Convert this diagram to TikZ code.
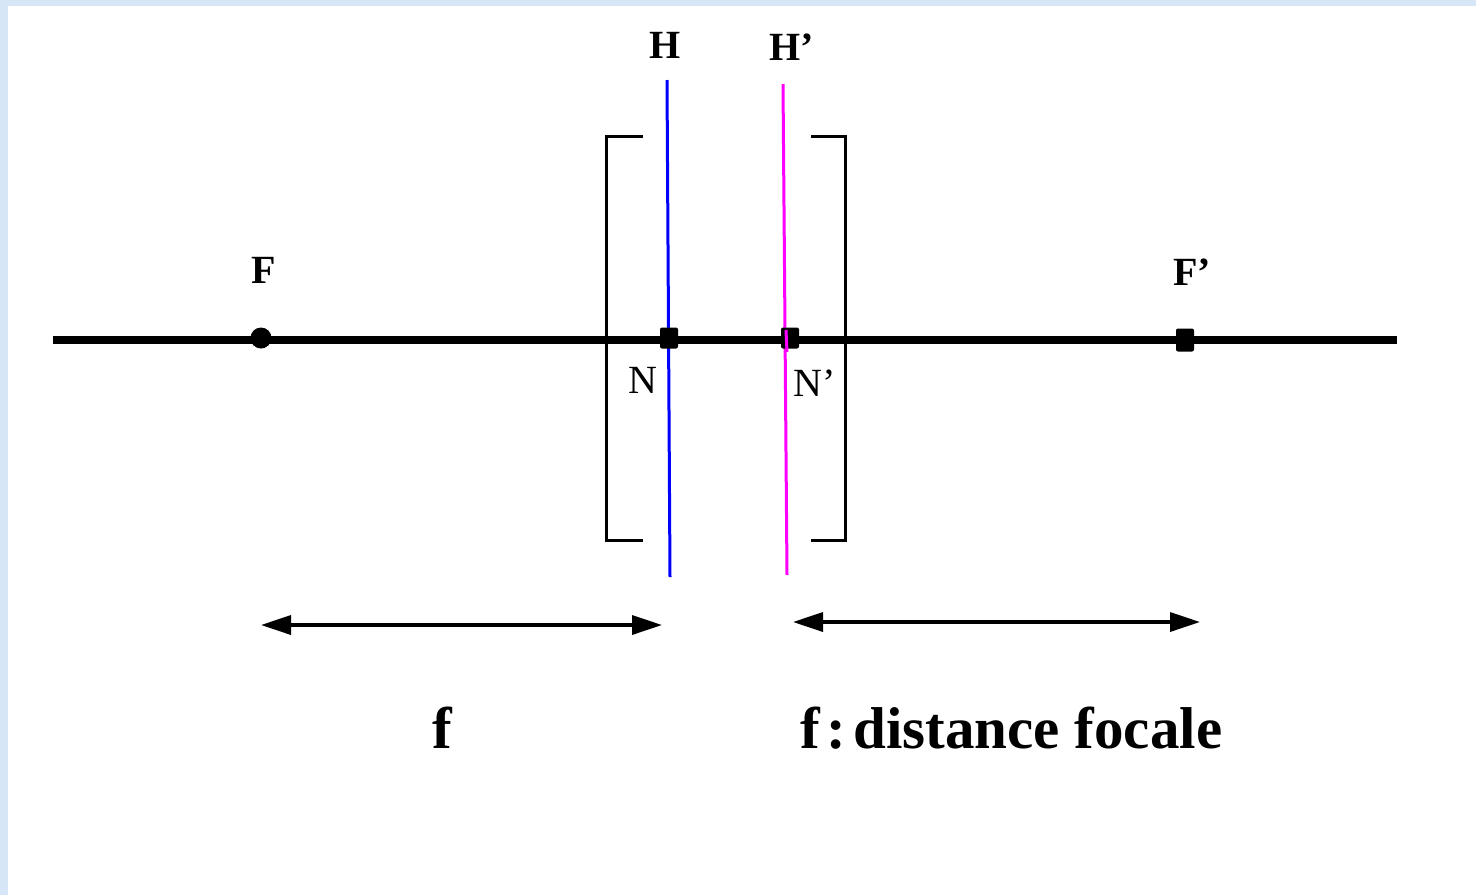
\documentclass[tikz,border=0pt]{standalone}
\usepackage{fontspec}
\setmainfont{Liberation Serif}
\usetikzlibrary{arrows.meta}
\definecolor{fondbleu}{RGB}{214,230,246}
\definecolor{rose}{RGB}{255,0,255}
\begin{document}
\begin{tikzpicture}[x=1pt,y=-1pt]
\tikzstyle{point} = [fill=black,inner sep=0pt,minimum width=18pt,minimum height=21pt,rounded corners=2pt] %points sur l'axe
\tikzstyle{etiq} = [font=\bfseries\fontsize{40}{40}\selectfont,inner sep=0pt] %lettres grasses
\tikzstyle{etiqN} = [font=\fontsize{40}{40}\selectfont,inner sep=0pt] %lettres N
\tikzstyle{grand} = [font=\bfseries\fontsize{59}{59}\selectfont,inner sep=0pt] %textes du bas
\tikzstyle{crochet} = [line width=3pt] %crochets de la lentille
\tikzstyle{cote} = [line width=3.5pt,{Triangle[length=30pt,width=19pt]}-{Triangle[length=30pt,width=19pt]}]

%fond
\fill[fondbleu] (0,0) rectangle (1476,895);
\fill[white] (8,6) rectangle (1476,895);
\useasboundingbox (0,0) rectangle (1476,895);

%axe optique
\coordinate (g) at (53,340);
\coordinate (d) at (1397,340);
\draw[line width=8pt] (g)--(d);

%plans principaux
\coordinate (Hh) at (667,80);
\coordinate (Hb) at (670,577);
\coordinate (Hph) at (783,84);
\coordinate (Hpb) at (787,575);
\draw[blue,line width=3pt] (Hh)--(Hb);
\draw[rose,line width=3pt] (Hph)--(Hpb);

%coordonnees des points
\draw(261,338)node[circle,fill=black,inner sep=0pt,minimum size=21pt](F){};
\draw(1185,340)node[point,minimum height=23pt](Fp){};
\draw(669,338)node[point](N){};
\draw(790,338)node[point](Np){};
\draw[rose,line width=3pt] (786,330)--(787,352);

%crochets
\draw[crochet] (643,136)--(606,136)--(606,540)--(643,540);
\draw[crochet] (811,136)--(845,136)--(845,540)--(811,540);

%noms
\draw(264,270)node[etiq](lF){F};
\draw(1192,272)node[etiq](lFp){F'};
\draw(665,45)node[etiq](lH){H};
\draw(792,47)node[etiq](lHp){H'};
\draw(643,380)node[etiqN](lN){N};
\draw(815,383)node[etiqN](lNp){N'};

%distances focales
\coordinate (a1) at (261,625);
\coordinate (a2) at (662,625);
\coordinate (b1) at (793,622);
\coordinate (b2) at (1200,622);
\draw[cote] (a1)--(a2);
\draw[cote] (b1)--(b2);

\draw(442,728)node[grand](f){f};
\draw(800,728)node[grand,anchor=west](fdist){f\hspace{0.12em}:\hspace{0.12em}distance focale};
\end{tikzpicture}
\end{document}
